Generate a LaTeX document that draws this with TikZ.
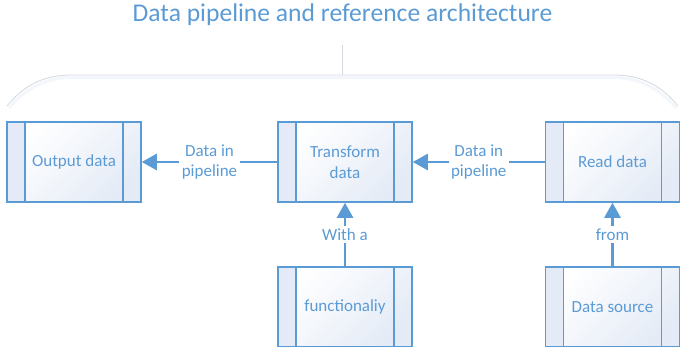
\documentclass[tikz,border=0pt]{standalone}
\usepackage{fontspec}
\setmainfont{Carlito}
\usetikzlibrary{arrows.meta}
\definecolor{pipeblue}{HTML}{5B9BD5}
\definecolor{bracegray}{HTML}{D3D8DF}
\definecolor{boxtint}{HTML}{E4EBF6}
\tikzset{
	procbox/.style={draw=pipeblue, line width=1.5pt, minimum width=134pt, minimum height=80pt,
		inner sep=0pt, align=center, left color=white, right color=boxtint, shading angle=45,
		path picture={
			\fill[boxtint] (path picture bounding box.north west) rectangle ([xshift=18pt]path picture bounding box.south west);
			\draw[pipeblue, line width=1.5pt] ([xshift=18pt]path picture bounding box.north west) -- ([xshift=18pt]path picture bounding box.south west);
			\draw[pipeblue, line width=1.5pt] ([xshift=-18pt]path picture bounding box.north east) -- ([xshift=-18pt]path picture bounding box.south east);
	}},
	flow/.style={draw=pipeblue, line width=2.5pt, -{Triangle[length=15pt, width=16pt]}},
	flowlbl/.style={fill=white, inner sep=2.5pt, align=center}
}
\begin{document}
\begin{tikzpicture}[x=1pt, y=-1pt, font=\fontsize{17}{20.5}\selectfont, text=pipeblue]
	\useasboundingbox (0,0) rectangle (680,346);
	\clip (0,0) rectangle (680,346);
	%title
	\node (title) at (342.5,15) {\fontsize{25.6}{30}\selectfont Data pipeline and reference architecture};
	%brace
	\draw[boxtint!45, line width=3pt]
	(9,108) .. controls (27,87) and (47,77.5) .. (72,77.5) -- (613,77.5) .. controls (638,77.5) and (658,87) .. (676,108);
	\draw[bracegray, line width=0.8pt] (342.5,45) -- (342.5,75);
	\draw[bracegray, line width=0.8pt]
	(7,106) .. controls (25,84) and (45,75) .. (72,75) -- (613,75) .. controls (640,75) and (660,84) .. (678,106);
	%boxes
	\node[procbox] (outdata) at (74,162) {Output data};
	\node[procbox] (transform) at (345,162) {Transform\\data};
	\node[procbox] (readdata) at (612.5,162) {Read data};
	\node[procbox] (function) at (345,307) {functionaliy};
	\node[procbox] (source) at (612.5,307) {Data source};
	%arrows
	\draw[flow] (transform.west) -- node[flowlbl] {Data in\\pipeline} (outdata.east);
	\draw[flow] (readdata.west) -- node[flowlbl] {Data in\\pipeline} (transform.east);
	\draw[flow] (function.north) -- node[flowlbl] {With a} (transform.south);
	\draw[flow] (source.north) -- node[flowlbl] {from} (readdata.south);
\end{tikzpicture}
\end{document}
